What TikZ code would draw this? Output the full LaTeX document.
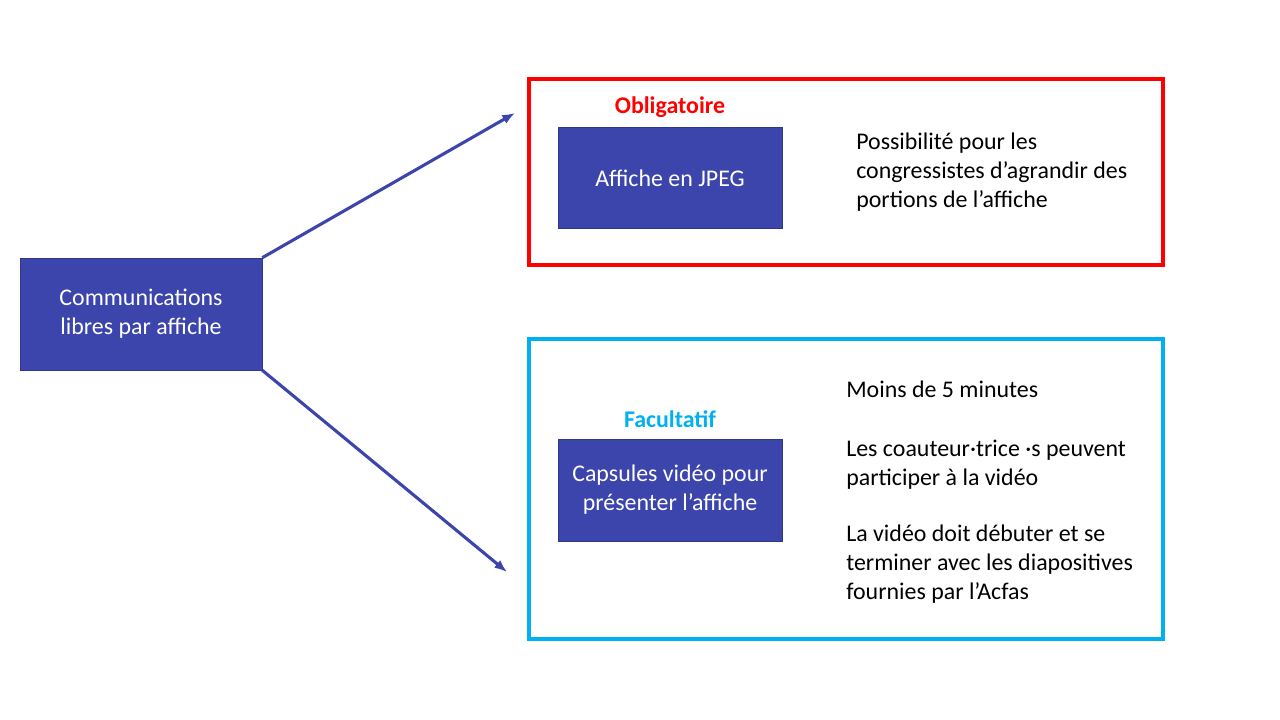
\documentclass[tikz,border=0pt]{standalone}
\usepackage{fontspec}
\setmainfont{Carlito}
\usetikzlibrary{arrows.meta}
\definecolor{boxblue}{HTML}{3C45AB}
\definecolor{fac}{HTML}{00B0F0}
\tikzset{x=0.025cm,y=-0.025cm,
 bluebox/.style={draw=boxblue!80!black,fill=boxblue,text=white,align=center,inner sep=0pt,font=\fontsize{17}{20.6}\selectfont},
 txt/.style={anchor=north west,align=left,inner sep=0pt,font=\fontsize{17}{20.6}\selectfont},
 conn/.style={draw=boxblue,line width=2.2pt,-{Latex[length=9pt,width=7pt]}}}
\begin{document}
\begin{tikzpicture}
\useasboundingbox (0,0) rectangle (1280,720);
\node[bluebox,minimum width=242*0.025cm,minimum height=112*0.025cm] (l) at (141,314) {Communications\\libres par affiche};
\coordinate (a1) at (515,113);
\coordinate (a2) at (507,572);
\draw[conn] (l.north east) -- (a1);
\draw[conn] (l.south east) -- (a2);
\node[draw=red,line width=2.2pt,minimum width=634*0.025cm,minimum height=186*0.025cm,inner sep=0pt] (r) at (846,172) {};
\node[draw=fac,line width=2.2pt,minimum width=634*0.025cm,minimum height=300*0.025cm,inner sep=0pt] (c) at (846,489) {};
\node[text=red,font=\fontsize{17}{20}\selectfont\bfseries] (ob) at (670,107) {Obligatoire};
\node[text=fac,font=\fontsize{17}{20}\selectfont\bfseries] (fa) at (670,419) {Facultatif};
\node[bluebox,minimum width=224*0.025cm,minimum height=101*0.025cm] (j) at (670,178) {Affiche en JPEG};
\node[bluebox,minimum width=224*0.025cm,minimum height=102*0.025cm] (v) at (670,490) {Capsules vidéo pour\\présenter l’affiche};
\node[txt] (t1) at (856,133) {Possibilité pour les\\congressistes d’agrandir des\\portions de l’affiche};
\node[txt] (t2) at (846,381) {Moins de 5 minutes};
\node[txt] (t3) at (846,440) {Les coauteur·trice ·s peuvent\\participer à la vidéo};
\node[txt] (t4) at (846,525) {La vidéo doit débuter et se\\terminer avec les diapositives\\fournies par l’Acfas};
\end{tikzpicture}
\end{document}
